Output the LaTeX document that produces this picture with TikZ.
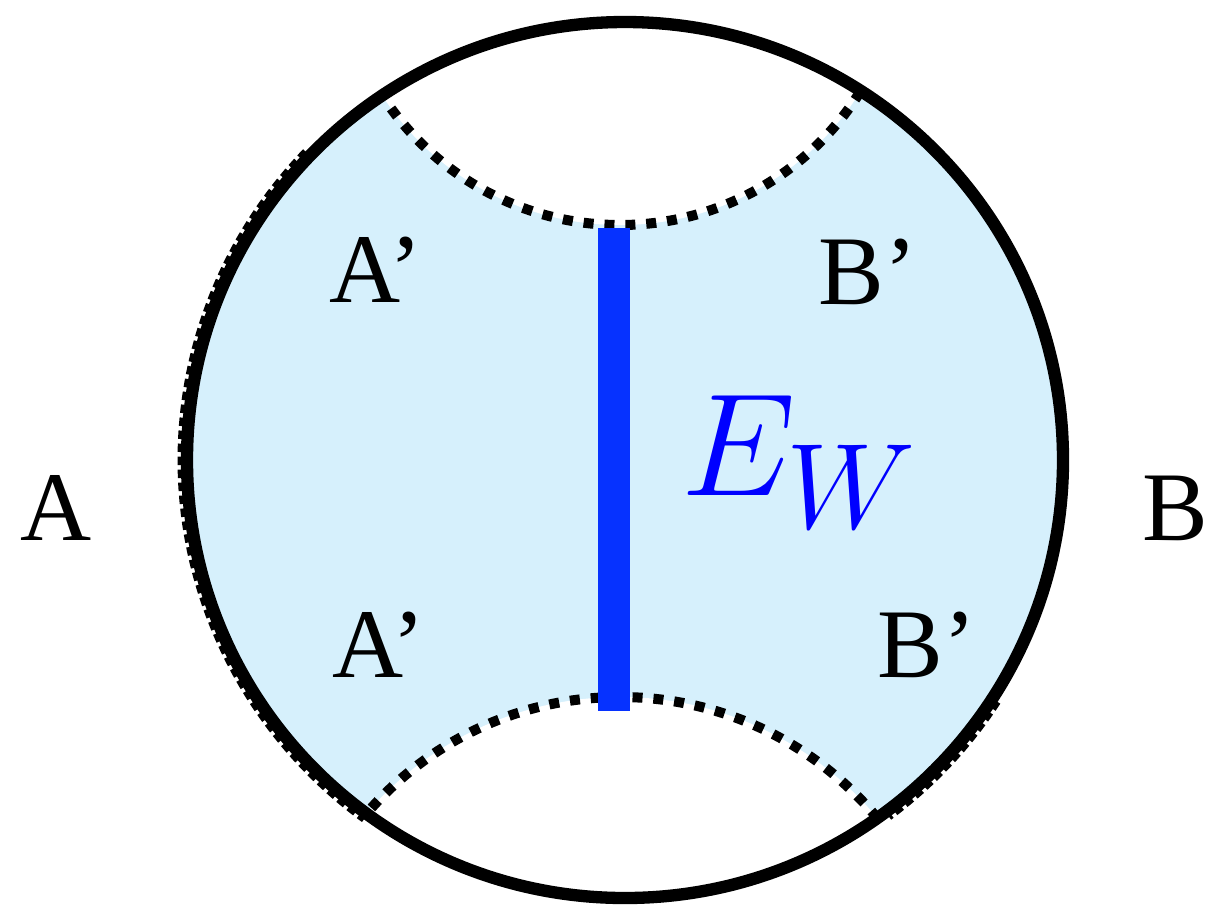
\documentclass[tikz,border=0pt]{standalone}
\usepackage{fontspec}
\setmainfont{Liberation Serif}
\usepackage{xcolor}
\usepackage{graphicx}
\usepackage{tikz}
\usetikzlibrary{positioning, calc}
\definecolor{wedgeblue}{RGB}{214,240,252}
\definecolor{barblue}{RGB}{6,50,255}
\tikzset{
    rim/.style={
        draw=black,
        line width=3.5pt
    },
    geod/.style={
        draw=black,
        line width=2.85pt,
        dash pattern=on 2.85pt off 3.1pt
    },
    edgedash/.style={
        draw=black,
        line width=1.4pt,
        dash pattern=on 2.4pt off 1.3pt
    },
    lbl/.style={
        inner sep=0pt,
        font=\fontsize{28}{30}\selectfont
    },
    ewlbl/.style={
        inner sep=0pt,
        text=blue,
        font=\fontsize{24.88}{28}\selectfont
    }
}

\begin{document}
\begin{tikzpicture}[x=0.01cm, y=0.01cm]

    \useasboundingbox (0,0) rectangle (1209,-908);

    % centres
    \coordinate (o) at (625,-460);
    \coordinate (ctop) at (620,58);
    \coordinate (cbot) at (620,-1031);

    % shaded wedge between the two geodesics
    \begin{scope}
        \clip (o) circle (438);
        \fill[wedgeblue] (o) circle (438);
        \fill[white] (ctop) circle (283);
        \fill[white] (cbot) circle (334);
        \draw[geod] (ctop) circle (283);
        \draw[geod] (cbot) circle (334);
    \end{scope}

    % dashed boundary pieces
    \draw[edgedash] ($(o)+(136:445)$) arc[start angle=136, end angle=234, radius=445];
    \draw[edgedash] ($(o)+(-33:445)$) arc[start angle=-33, end angle=-53.5, radius=445];

    % boundary circle
    \draw[rim] (o) circle (438);

    % E_W bar
    \fill[barblue] (598,-228) rectangle (630,-711);

    % labels
    \node (a) [lbl] at (56,-508) {A};
    \node (b) [lbl] at (1175,-508) {B};
    \node (at) [lbl] at (376,-270) {A'};
    \node (ab) [lbl] at (379,-645) {A'};
    \node (bt) [lbl] at (868,-272) {B'};
    \node (bb) [lbl] at (927,-645) {B'};
    \node (ew) [ewlbl] at (800,-462) {\scalebox{1.67}{$E_W$}};

\end{tikzpicture}
\end{document}
